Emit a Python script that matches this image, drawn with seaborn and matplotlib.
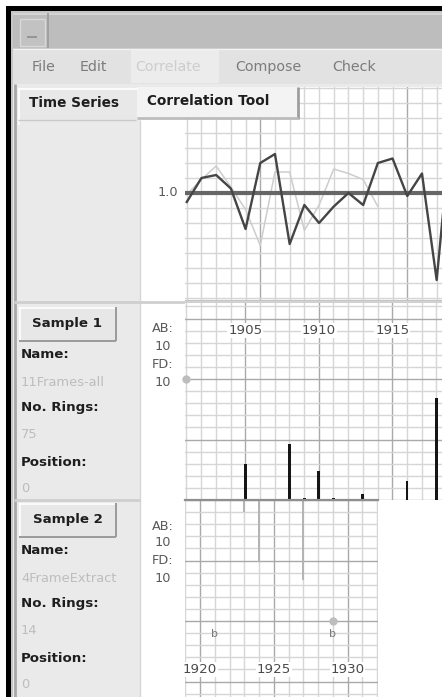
import numpy as np
import matplotlib
matplotlib.use("Agg")
import matplotlib.pyplot as plt
from matplotlib.patches import Rectangle
import seaborn as sns

# ---------------- data ----------------
# correlation curves (one value per ring position)
curve_dark_pos = list(range(19))
curve_dark = [0.94, 1.10, 1.12, 1.03, 0.76, 1.20, 1.26, 0.66, 0.92, 0.80,
              0.91, 1.00, 0.92, 1.20, 1.23, 0.98, 1.13, 0.42, 1.45]
curve_light_pos = list(range(14))
curve_light = [0.99, 1.09, 1.18, 1.04, 0.89, 0.65, 1.14, 1.14, 0.75, 0.92,
               1.16, 1.13, 1.09, 0.91]
ref_value = 1.0
ref_label = "1.0"

# skeleton plot, sample 1
s1_years = [1905, 1908, 1909, 1910, 1911, 1913, 1916, 1918]
s1_heights = [3.0, 4.6, 0.2, 2.4, 0.2, 0.5, 1.6, 8.4]
s1_year_labels = [1905, 1910, 1915]
s1_dot_year, s1_dot_value = 1901, 10

# skeleton plot, sample 2
s2_years = [1923, 1924, 1927]
s2_heights = [1.0, 5.1, 6.6]
s2_year_labels = [1920, 1925, 1930]
s2_dot_year, s2_dot_value = 1929, 10
s2_b_years = [1921, 1929]

menu_items = ["File", "Edit", "Correlate", "Compose", "Check"]
menu_x = [32, 80, 135, 235, 332]
samples = [
    {"button": "Sample 1", "name": "11Frames-all", "rings": "75", "pos": "0"},
    {"button": "Sample 2", "name": "4FrameExtract", "rings": "14", "pos": "0"},
]
scale_text = ["AB:", "10", "FD:", "10"]

# ---------------- figure ----------------
W, H = 442, 697
fig = plt.figure(figsize=(W / 100, H / 100), dpi=100)
fig.patch.set_facecolor("white")


def px_axes(x0, y0, x1, y1, **kw):
    return fig.add_axes([x0 / W, 1 - y1 / H, (x1 - x0) / W, (y1 - y0) / H], **kw)


def canvas(z):
    a = px_axes(0, 0, W, H, zorder=z)
    a.set_xlim(0, W)
    a.set_ylim(H, 0)
    a.axis("off")
    a.patch.set_alpha(0)
    return a


def rect(a, x, y, w, h, fc, ec="none", lw=0, **kw):
    a.add_patch(Rectangle((x, y), w, h, facecolor=fc, edgecolor=ec, linewidth=lw, **kw))


def hline(a, y, x0, x1, c, lw=1.0):
    a.plot([x0, x1], [y, y], color=c, linewidth=lw, solid_capstyle="butt")


def vline(a, x, y0, y1, c, lw=1.0):
    a.plot([x, x], [y0, y1], color=c, linewidth=lw, solid_capstyle="butt")


bg = canvas(0)

# window frame
rect(bg, 7, 7, W - 7, H - 7, "#c6c6c6")
rect(bg, 6, 6, W - 6, 4.5, "black")
rect(bg, 6, 6, 4.5, H - 6, "black")
# title bar
rect(bg, 13, 13, W - 13, 35, "#bdbdbd")
hline(bg, 14, 13, W, "#d4d4d4", 1.5)
rect(bg, 20, 19, 25, 27, "#c2c2c2", ec="#d8d8d8", lw=1)
hline(bg, 37, 27, 37, "#8c8c8c", 1.2)
vline(bg, 47.5, 13, 48, "#9c9c9c", 1.2)
# menu bar
rect(bg, 13, 49, W - 13, 35, "#e2e2e2")
rect(bg, 131, 50, 88, 33, "#ececec")
hline(bg, 49, 13, W, "#f2f2f2", 1.0)
for item, x in zip(menu_items, menu_x):
    col = "#cdcdcd" if item == "Correlate" else "#7c7c7c"
    bg.text(x, 67, item, fontsize=10.3, color=col, ha="left", va="center")

# content area
rect(bg, 13, 84, W - 13, H - 84, "#eaeaea")
vline(bg, 14.5, 84, H, "#a8a8a8", 2)
rect(bg, 140, 87, W - 140, H - 87, "white")
vline(bg, 139.5, 120, H, "#d6d6d6", 1)
hline(bg, 302, 14, W, "#cfcfcf", 2)
hline(bg, 500, 14, 140, "#cfcfcf", 2)

# sample panels
for s, top in zip(samples, [307, 503]):
    rect(bg, 19, top, 97, 34, "#e7e7e7")
    hline(bg, top + 0.5, 19, 116, "white", 1.2)
    vline(bg, 19.5, top, top + 34, "white", 1.2)
    hline(bg, top + 34, 19, 116, "#9a9a9a", 1.4)
    vline(bg, 116, top, top + 34, "#9a9a9a", 1.4)
    bg.text(67.5, top + 17, s["button"], fontsize=9.6, fontweight="bold",
            color="#1e1e1e", ha="center", va="center")
    rows = [("Name:", 48, True), (s["name"], 75, False), ("No. Rings:", 101, True),
            (s["rings"], 128, False), ("Position:", 155, True), (s["pos"], 181, False)]
    for txt, dy, bold in rows:
        t = bg.text(21 if bold else 21, top + dy, txt, fontsize=9.6 if bold else 9.4,
                    fontweight="bold" if bold else "normal",
                    color="#1e1e1e" if bold else "#bdbdbd", ha="left", va="center")
        t.set_clip_path(Rectangle((15 / W, 0), 124 / W, 1, transform=fig.transFigure))

# scale annotations
for ys in ([329, 347, 365, 383], [526, 543, 560, 578]):
    for txt, y in zip(scale_text, ys):
        bg.text(163, y, txt, fontsize=9.3, color="#5a5a5a", ha="center", va="center")
bg.text(168, 193, ref_label, fontsize=9.3, color="#5a5a5a", ha="center", va="center")

GRID_MINOR = "#d6d6d6"
GRID_MAJOR = "#a9a9a9"


def style_grid(ax):
    ax.set_axisbelow(True)
    ax.grid(which="minor", color=GRID_MINOR, linewidth=1.0)
    ax.grid(which="major", color=GRID_MAJOR, linewidth=1.0)
    ax.tick_params(which="both", length=0, labelbottom=False, labelleft=False)
    for sp in ax.spines.values():
        sp.set_visible(False)
    ax.set_xlabel("")
    ax.set_ylabel("")


# ---------------- correlation curves ----------------
ax_top = px_axes(185, 87, W, 300, zorder=2)
ax_top.set_facecolor("white")
sns.lineplot(x=curve_light_pos, y=curve_light, ax=ax_top, color="#cdcdcd",
             linewidth=1.1, zorder=3)
ax_top.axhline(ref_value, color="#666666", linewidth=3.0, zorder=3.5)
sns.lineplot(x=curve_dark_pos, y=curve_dark, ax=ax_top, color="#454545",
             linewidth=1.7, zorder=4)
ax_top.set_xlim(-0.12, -0.12 + 257 / 14.7)
ax_top.set_ylim(1.0 - 107 / 150, 1.0 + 106 / 150)
ax_top.set_xticks([5, 15])
ax_top.set_xticks(np.arange(0, 18), minor=True)
ax_top.set_yticks([])
ax_top.set_yticks(np.round(np.arange(0.3, 1.71, 0.1), 2), minor=True)
style_grid(ax_top)
ax_top.spines["bottom"].set_visible(True)
ax_top.spines["bottom"].set_color("#c4c4c4")

# ---------------- skeleton plot, sample 1 ----------------
ax_mid = px_axes(185, 303, W, 500, zorder=2)
ax_mid.set_facecolor("white")
sns.barplot(x=s1_years, y=s1_heights, native_scale=True, width=0.2,
            color="#151515", saturation=1, linewidth=0, errorbar=None, ax=ax_mid)
ax_mid.set_xlim(1900.9, 1900.9 + 257 / 14.7)
ax_mid.set_ylim(0, 197 / 12.1)
ax_mid.set_xticks([1905, 1910, 1915])
ax_mid.set_xticks(np.arange(1901, 1919), minor=True)
ax_mid.set_yticks([0, 5, 10, 15])
ax_mid.set_yticks(np.arange(0, 17), minor=True)
style_grid(ax_mid)
for yr in s1_year_labels:
    ax_mid.text(yr, 14, str(yr), fontsize=9.6, color="#4a4a4a", ha="center",
                va="center", zorder=6,
                bbox=dict(facecolor="white", edgecolor="none", pad=0.6))
sns.scatterplot(x=[s1_dot_year], y=[s1_dot_value], ax=ax_mid, s=36,
                color="#bdbdbd", linewidth=0, clip_on=False, zorder=6)
ax_mid.set_xlabel("")
ax_mid.set_ylabel("")

# ---------------- skeleton plot, sample 2 ----------------
ax_bot = px_axes(185, 500, 378, H, zorder=2)
ax_bot.set_facecolor("white")
sns.barplot(x=s2_years, y=s2_heights, native_scale=True, width=0.12,
            color="#b4b4b4", saturation=1, linewidth=0, errorbar=None, ax=ax_bot)
ax_bot.set_xlim(1918.98, 1918.98 + 193 / 14.75)
ax_bot.set_ylim(197 / 12.1, 0)
ax_bot.set_xticks([1920, 1925, 1930])
ax_bot.set_xticks(np.arange(1919, 1933), minor=True)
ax_bot.set_yticks([0, 5, 10, 15])
ax_bot.set_yticks(np.arange(0, 17), minor=True)
style_grid(ax_bot)
ax_bot.spines["top"].set_visible(True)
ax_bot.spines["top"].set_color("#8f8f8f")
ax_bot.spines["top"].set_linewidth(1.6)
for yr in s2_year_labels:
    ax_bot.text(yr, 14, str(yr), fontsize=9.6, color="#4a4a4a", ha="center",
                va="center", zorder=6,
                bbox=dict(facecolor="white", edgecolor="none", pad=0.6))
for yr in s2_b_years:
    ax_bot.text(yr, 11.1, "b", fontsize=8, color="#7a7a7a", ha="center",
                va="center", zorder=5)
sns.scatterplot(x=[s2_dot_year], y=[s2_dot_value], ax=ax_bot, s=36,
                color="#bdbdbd", linewidth=0, clip_on=False, zorder=6)
ax_bot.set_xlabel("")
ax_bot.set_ylabel("")

# ---------------- tabs (drawn over the charts) ----------------
fg = canvas(10)
# inactive tab
rect(fg, 18, 88, 120, 31, "#e8e8e8")
hline(fg, 88.5, 18, 138, "white", 1.2)
vline(fg, 18.5, 88, 125, "white", 1.2)
hline(fg, 120, 18, 136, "#c9c9c9", 1.0)
fg.text(29, 103, "Time Series", fontsize=9.8, fontweight="bold", color="#1e1e1e",
        ha="left", va="center")
# active tab
rect(fg, 137, 87, 160, 30, "#f3f3f3")
vline(fg, 297.5, 87, 119, "#9e9e9e", 2)
hline(fg, 118, 137, 298, "#bcbcbc", 2)
fg.text(147, 101, "Correlation Tool", fontsize=9.8, fontweight="bold",
        color="#1e1e1e", ha="left", va="center")

fig.savefig("out.png", dpi=100, facecolor=fig.get_facecolor())
